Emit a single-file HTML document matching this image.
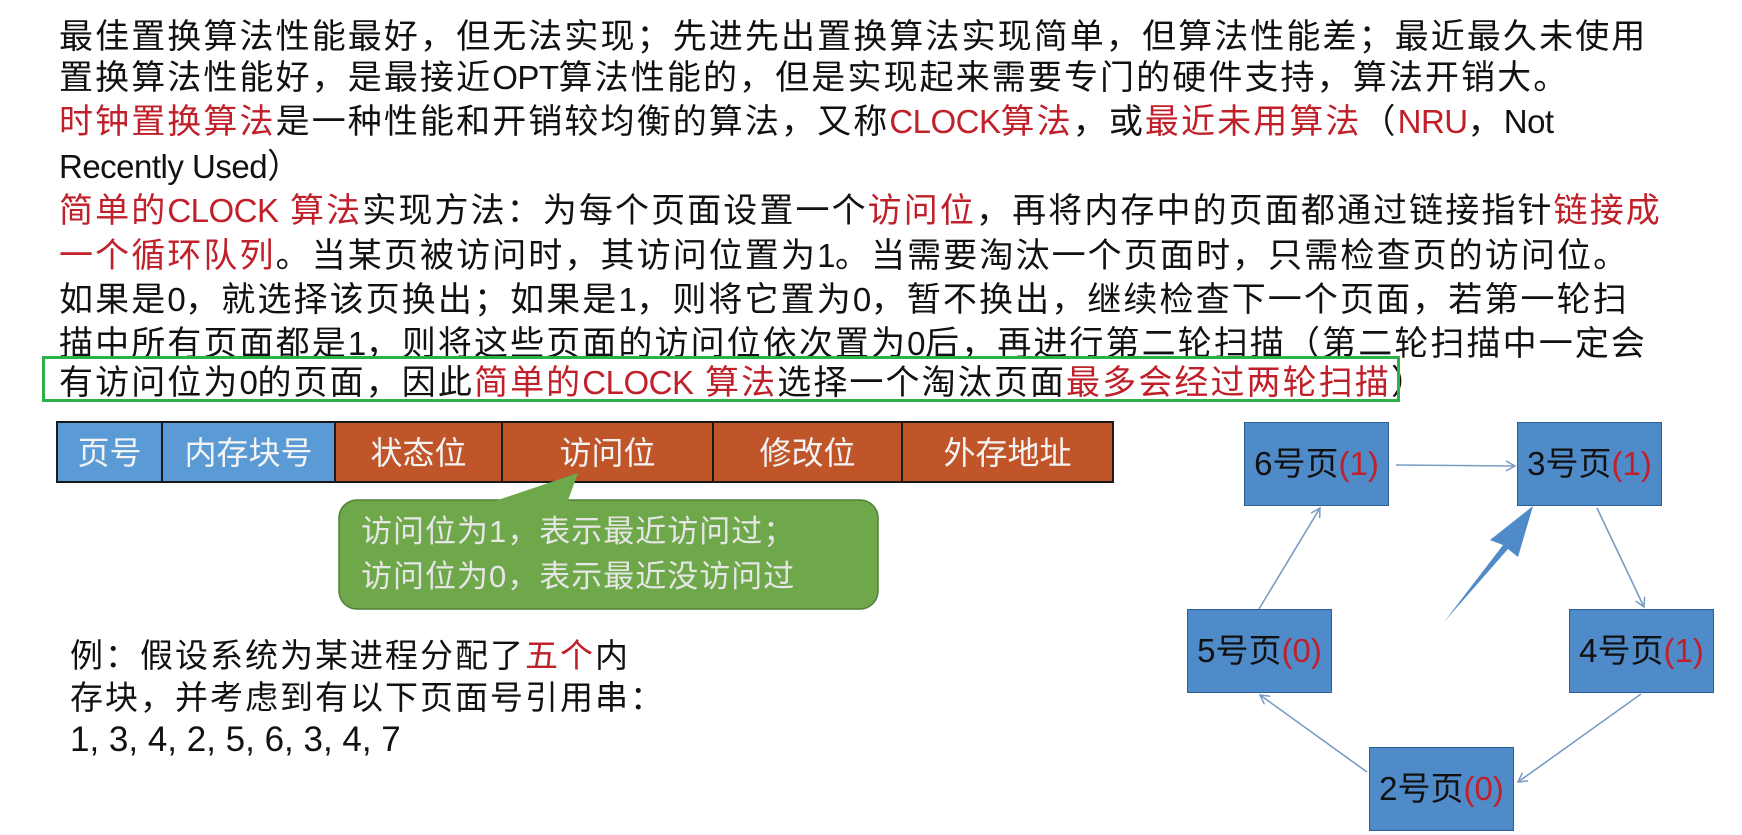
<!DOCTYPE html>
<html><head><meta charset="utf-8"><style>
body{margin:0;width:1742px;height:835px;background:#fff;overflow:hidden;position:relative;font-family:"Liberation Sans","Noto Sans CJK SC",sans-serif;}
.l{position:absolute;left:59px;height:44px;line-height:44px;font-size:34px;letter-spacing:2.1px;white-space:nowrap;color:#111;}
.n{font-size:33px;letter-spacing:-0.5px;}
.r{color:#c0202a;}
.cell{position:absolute;top:423px;height:58px;line-height:56px;text-align:center;color:#f4f4f4;font-size:32px;font-family:"Noto Sans CJK SC",sans-serif;border-right:2px solid #1a1a1a;box-sizing:border-box;}
.b{background:#5b9bd5;}.o{background:#c0552a;}
.ex{position:absolute;left:70px;font-size:33px;letter-spacing:2px;white-space:nowrap;color:#111;line-height:42px;}
.nd{position:absolute;width:145px;height:84px;background:#4f8bc9;border:1.5px solid #2d5e91;box-sizing:border-box;font-size:33px;line-height:82px;text-align:center;color:#111;white-space:nowrap;}
</style></head><body>
<div class="l" style="top:15px">最佳置换算法性能最好，但无法实现；先进先出置换算法实现简单，但算法性能差；最近最久未使用</div>
<div class="l" style="top:56px">置换算法性能好，是最接近<span class="n">OPT</span>算法性能的，但是实现起来需要专门的硬件支持，算法开销大。</div>
<div class="l" style="top:100px"><span class="r">时钟置换算法</span>是一种性能和开销较均衡的算法，又称<span class="r"><span class="n">CLOCK</span>算法</span>，或<span class="r">最近未用算法</span>（<span class="r n">NRU</span>，<span class="n">Not</span></div>
<div class="l n" style="top:145px">Recently Used<span style="font-size:34px">）</span></div>
<div class="l" style="top:189px"><span class="r">简单的<span class="n">CLOCK</span> 算法</span>实现方法：为每个页面设置一个<span class="r">访问位</span>，再将内存中的页面都通过链接指针<span class="r">链接成</span></div>
<div class="l" style="top:234px"><span class="r">一个循环队列</span>。当某页被访问时，其访问位置为<span class="n">1</span>。当需要淘汰一个页面时，只需检查页的访问位。</div>
<div class="l" style="top:278px">如果是<span class="n">0</span>，就选择该页换出；如果是<span class="n">1</span>，则将它置为<span class="n">0</span>，暂不换出，继续检查下一个页面，若第一轮扫</div>
<div class="l" style="top:322px">描中所有页面都是<span class="n">1</span>，则将这些页面的访问位依次置为<span class="n">0</span>后，再进行第二轮扫描（第二轮扫描中一定会</div>
<div class="l" style="top:361px">有访问位为<span class="n">0</span>的页面，因此<span class="r">简单的<span class="n">CLOCK</span> 算法</span>选择一个淘汰页面<span class="r">最多会经过两轮扫描</span>）</div>
<div style="position:absolute;left:42px;top:356px;width:1358px;height:46px;border:3px solid #2fb14a;box-sizing:border-box;"></div>

<div style="position:absolute;left:56px;top:421px;width:1058px;height:62px;background:#1a1a1a;"></div>
<div class="cell b" style="left:58px;width:105px">页号</div>
<div class="cell b" style="left:163px;width:173px">内存块号</div>
<div class="cell o" style="left:336px;width:167px">状态位</div>
<div class="cell o" style="left:503px;width:211px">访问位</div>
<div class="cell o" style="left:714px;width:189px">修改位</div>
<div class="cell o" style="left:903px;width:209px;border-right:none">外存地址</div>

<svg style="position:absolute;left:0;top:0" width="1742" height="835">
<rect x="339" y="500" width="539" height="109" rx="18" fill="#6fa84a" stroke="#4f7f35" stroke-width="1.5"/>
<polygon points="489,503 578,473 567,503" fill="#6fa84a"/>
<defs><marker id="a" markerWidth="12" markerHeight="12" refX="10" refY="6" orient="auto" markerUnits="userSpaceOnUse"><path d="M1,1 L10,6 L1,11" fill="none" stroke="#7a9cc4" stroke-width="1.5"/></marker></defs>
<g stroke="#7a9cc4" stroke-width="1.6" marker-end="url(#a)">
<line x1="1396" y1="465" x2="1515" y2="466"/>
<line x1="1597" y1="508" x2="1644" y2="607"/>
<line x1="1641" y1="694" x2="1518" y2="782"/>
<line x1="1367" y1="772" x2="1260" y2="695"/>
<line x1="1259" y1="609" x2="1320" y2="508"/>
</g>
<polygon points="1444,622 1503,545 1490,540 1533,506 1518,557 1508,549" fill="#4f8bc9"/>
</svg>
<div style="position:absolute;left:361px;top:509px;font-size:31px;line-height:45px;color:#e6e6e6;letter-spacing:1px;white-space:nowrap">访问位为1，表示最近访问过；<br>访问位为0，表示最近没访问过</div>

<div class="ex" style="top:635px">例：假设系统为某进程分配了<span class="r">五个</span>内</div>
<div class="ex" style="top:677px">存块，并考虑到有以下页面号引用串：</div>
<div class="ex" style="top:719px;letter-spacing:0;font-size:35px">1, 3, 4, 2, 5, 6, 3, 4, 7</div>

<div class="nd" style="left:1244px;top:422px">6号页<span class="r">(1)</span></div>
<div class="nd" style="left:1517px;top:422px">3号页<span class="r">(1)</span></div>
<div class="nd" style="left:1187px;top:609px">5号页<span class="r">(0)</span></div>
<div class="nd" style="left:1569px;top:609px">4号页<span class="r">(1)</span></div>
<div class="nd" style="left:1369px;top:747px">2号页<span class="r">(0)</span></div>
</body></html>
